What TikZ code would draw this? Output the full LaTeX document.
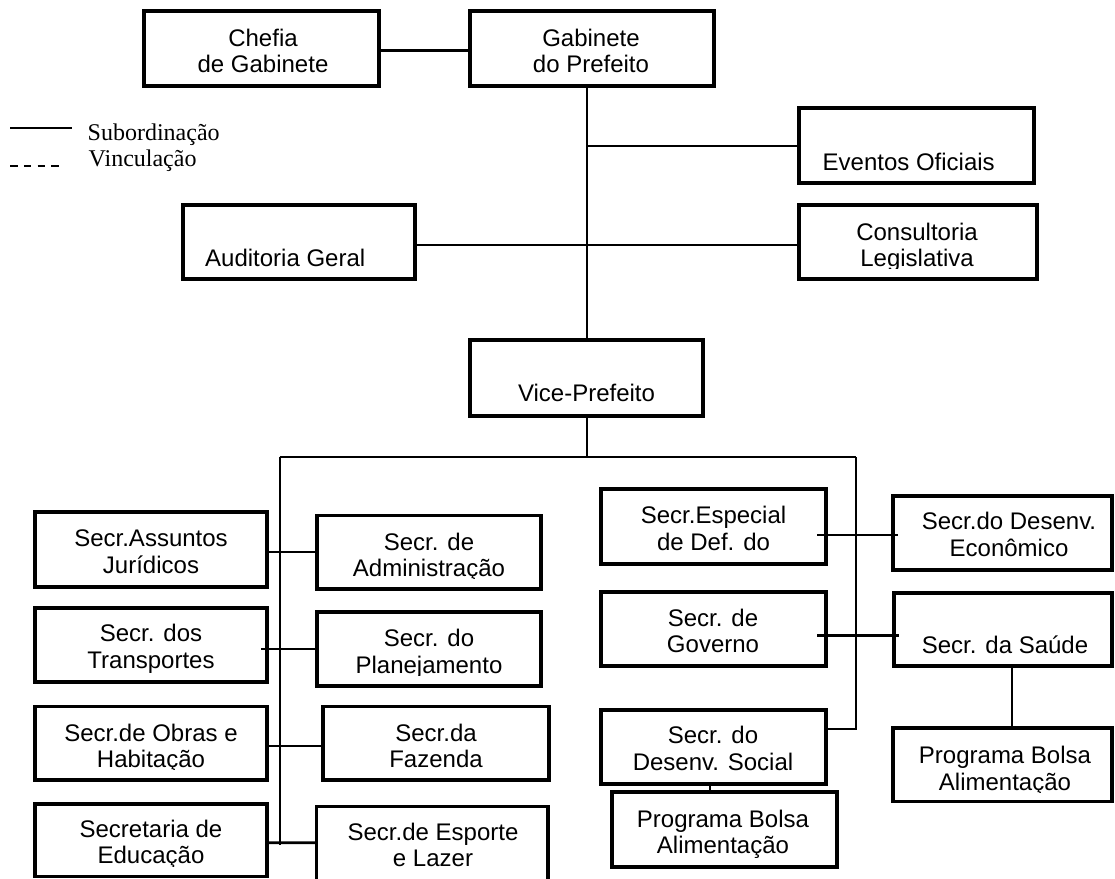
\documentclass[tikz,border=0pt]{standalone}
\usepackage{fontspec}
\setmainfont{Liberation Sans}
\newfontfamily\legendfont{Liberation Serif}

% two centred lines whose reference point is the baseline of the first line
\newcommand\twoline[2]{\vtop{\halign{\hfil##\hfil\cr#1\cr#2\cr}}}

% box node from its corners: name, x1, y1, x2, y2
\newcommand\orgbox[5]{%
  \node[obox, minimum width={#4-#2}, minimum height={#5-#3}] (#1)
    at ({(#2+#4)/2},{(#3+#5)/2}) {};}

% box text, cut off just below its last line: name, x, first baseline, cut y, text
\newcommand\boxtext[5]{%
  \begin{scope}
    \clip (0,0) rectangle (1115,#4);
    \node[lbl] (#1) at (#2,#3) {#5};
  \end{scope}}

\tikzset{
  obox/.style={draw, line width=3.2pt, inner sep=0pt, outer sep=0pt},
  conn/.style={line width=2pt},
  connb/.style={line width=2.7pt},
  lbl/.style={inner sep=0pt, anchor=base, font=\fontsize{24}{26.7}\selectfont},
  leg/.style={inner sep=0pt, anchor=base west, font=\legendfont\fontsize{24}{26.7}\selectfont}
}

\begin{document}
\begin{tikzpicture}[x=1pt, y=-1pt]
  \fill[white] (0,0) rectangle (1115,878);
  \clip (0,0) rectangle (1115,878);

  % legend
  \coordinate (legA) at (10,127.7);
  \coordinate (legB) at (72,127.7);
  \coordinate (legC) at (10,165.7);
  \coordinate (legD) at (59,165.7);
  \draw[conn] (legA) -- (legB);
  \draw[line width=2pt, dash pattern=on 7.5pt off 6.3pt] (legC) -- (legD);
  \node[leg] (legsub) at (87.5,140) {Subordinação};
  \node[leg] (legvin) at (88.5,166.7) {Vinculação};

  % boxes
  \orgbox{chefia}{144}{11}{379}{86}
  \orgbox{gab}{470}{11}{714}{86}
  \orgbox{eve}{799}{108}{1034}{183}
  \orgbox{aud}{183}{205}{415}{279}
  \orgbox{cons}{799}{205}{1037}{279}
  \orgbox{vice}{470}{340}{703}{416}
  \orgbox{jur}{35}{512}{267}{587}
  \orgbox{adm}{317}{515.7}{541}{589}
  \orgbox{tra}{35}{608}{267}{682}
  \orgbox{pla}{317}{612}{541}{686}
  \orgbox{obr}{35}{706.7}{267}{780}
  \orgbox{faz}{323}{706.7}{549}{780}
  \orgbox{edu}{35}{804}{267}{876.5}
  \orgbox{esp}{316.7}{806.7}{548}{884}
  \orgbox{def}{601}{489}{826}{564}
  \orgbox{eco}{893}{496}{1112}{570}
  \orgbox{gov}{601}{592}{826}{666}
  \orgbox{sau}{894}{593}{1112}{666}
  \orgbox{dsoc}{601}{710}{826}{784}
  \orgbox{pbl}{612}{792}{837}{867}
  \orgbox{pbr}{893}{728}{1112}{801.7}

  % texts
  \boxtext{chefia-t}{263}{46}{75}{\twoline{Chefia}{de Gabinete}}
  \boxtext{gab-t}{591}{46}{75}{\twoline{Gabinete}{do Prefeito}}
  \node[lbl, anchor=base west] (eve-t) at (822.5,170) {Eventos Oficiais};
  \boxtext{cons-t}{917}{240}{268.7}{\twoline{Consultoria}{Legislativa}}
  \node[lbl, anchor=base west] (aud-t) at (205,266.7) {Auditoria Geral};
  \node[lbl] (vice-t) at (586.5,401.7) {Vice-Prefeito};
  \boxtext{jur-t}{151}{546.7}{576.3}{\twoline{Secr.Assuntos}{Jurídicos}}
  \boxtext{adm-t}{429}{550}{578.7}{\twoline{Secr. de}{Administração}}
  \boxtext{tra-t}{151}{641.7}{672}{\twoline{Secr. dos}{Transportes}}
  \boxtext{pla-t}{429}{646.7}{675.3}{\twoline{Secr. do}{Planejamento}}
  \boxtext{obr-t}{151}{741}{769.7}{\twoline{Secr.de Obras e}{Habitação}}
  \boxtext{faz-t}{436}{741}{769.7}{\twoline{Secr.da}{Fazenda}}
  \boxtext{edu-t}{151}{837}{866}{\twoline{Secretaria de}{Educação}}
  \boxtext{esp-t}{433}{840}{868.7}{\twoline{Secr.de Esporte}{e Lazer}}
  \boxtext{def-t}{713.5}{523.3}{552.7}{\twoline{Secr.Especial}{de Def. do}}
  \boxtext{eco-t}{1009}{529.3}{558.7}{\twoline{Secr.do Desenv.}{Econômico}}
  \boxtext{gov-t}{713}{626}{656}{\twoline{Secr. de}{Governo}}
  \node[lbl] (sau-t) at (1005,653.3) {Secr. da Saúde};
  \boxtext{pbr-t}{1005}{763.3}{792}{\twoline{Programa Bolsa}{Alimentação}}
  \boxtext{dsoc-t}{713}{743.3}{773}{\twoline{Secr. do}{Desenv. Social}}
  \boxtext{pbl-t}{723}{827}{857}{\twoline{Programa Bolsa}{Alimentação}}

  % top level connectors
  \coordinate (sx) at (587,0);
  \draw[connb] ([yshift=-2pt]chefia.east) -- ([yshift=-2pt]gab.west);
  \draw[conn] (gab.south -| sx) -- (vice.north -| sx);
  \draw[conn] (sx |- eve.west) -- (eve.west);
  \draw[connb] ([yshift=-3pt]aud.east) -- ([yshift=-3pt]cons.west);

  % bus below the vice-mayor
  \coordinate (busL) at (279.5,457);
  \coordinate (busR) at (855.5,457);
  \coordinate (busLend) at (279.5,845);
  \coordinate (busRend) at (855.5,729);
  \draw[conn] (vice.south -| sx) -- (sx |- busL);
  \draw[conn] (busL) -- (busR);
  \draw[conn] (busL) -- (busLend);
  \draw[conn] (busR) -- (busRend) -- (busRend -| dsoc.east);

  % left column pairs
  \draw[conn] (jur.east |- adm.west) -- (adm.west);
  \draw[connb] ([xshift=-6pt]tra.east |- pla.west) -- (pla.west);
  \draw[conn] ([yshift=-2.5pt]obr.east) -- ([yshift=-2.5pt]faz.west);
  \draw[connb] ([yshift=-2.5pt]edu.east) -- ([yshift=2.6pt]esp.west);

  % right column pairs
  \draw[conn] ([xshift=-9pt,yshift=-8.5pt]def.east) -- ([xshift=5pt,yshift=-2pt]eco.west);
  \draw[connb] ([xshift=-9pt,yshift=-6.5pt]gov.east) -- ([xshift=5pt,yshift=-6pt]sau.west);
  \draw[conn] ([xshift=8.5pt]sau.south) -- ([xshift=9pt]pbr.north);
  \draw[conn] ([xshift=-3.5pt]dsoc.south) -- ([xshift=-14.5pt]pbl.north);
\end{tikzpicture}
\end{document}
